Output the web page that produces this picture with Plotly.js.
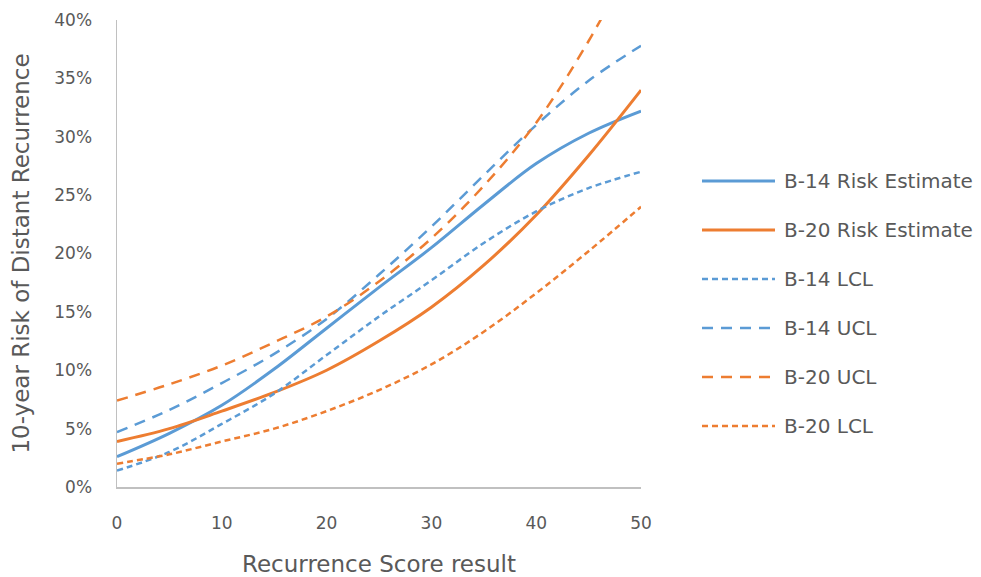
<!DOCTYPE html>
<html>
<head>
<meta charset="utf-8">
<script src="https://cdn.plot.ly/plotly-3.0.1.min.js"></script>
<style>html,body{margin:0;padding:0;background:#fff;}#chart{width:981px;height:577px;}</style>
</head>
<body>
<div id="chart"></div>
<script>
// Recurrence score values
const scores = [0, 5, 10, 15, 20, 25, 30, 35, 40, 45, 50];
// 10-year risk of distant recurrence (fractions)
const b14Estimate = [0.026, 0.046, 0.070, 0.101, 0.136, 0.171, 0.205, 0.242, 0.277, 0.303, 0.322];
const b20Estimate = [0.039, 0.050, 0.065, 0.081, 0.100, 0.125, 0.154, 0.190, 0.233, 0.284, 0.340];
const b14LCL = [0.014, 0.030, 0.054, 0.080, 0.113, 0.146, 0.177, 0.209, 0.236, 0.256, 0.270];
const b14UCL = [0.047, 0.066, 0.089, 0.114, 0.144, 0.182, 0.223, 0.267, 0.310, 0.348, 0.378];
const b20UCL = [0.074, 0.088, 0.104, 0.124, 0.146, 0.176, 0.213, 0.258, 0.312, 0.382, 0.465];
const b20LCL = [0.020, 0.028, 0.039, 0.050, 0.065, 0.083, 0.105, 0.133, 0.166, 0.202, 0.240];

const seriesNames = ["B-14 Risk Estimate", "B-20 Risk Estimate", "B-14 LCL", "B-14 UCL", "B-20 UCL", "B-20 LCL"];
const seriesValues = [b14Estimate, b20Estimate, b14LCL, b14UCL, b20UCL, b20LCL];

const xTickVals = [0, 10, 20, 30, 40, 50];
const yTickVals = [0, 0.05, 0.10, 0.15, 0.20, 0.25, 0.30, 0.35, 0.40];
const yTickText = ["0%", "5%", "10%", "15%", "20%", "25%", "30%", "35%", "40%"];

const BLUE = "#5b9bd5", ORANGE = "#ed7d31";
const styles = [
  {color: BLUE, width: 3, dash: "solid"},
  {color: ORANGE, width: 3, dash: "solid"},
  {color: BLUE, width: 2.5, dash: "6px,4px"},
  {color: BLUE, width: 2.5, dash: "11px,8px"},
  {color: ORANGE, width: 2.5, dash: "11px,8px"},
  {color: ORANGE, width: 2.5, dash: "6px,4px"}
];

const traces = seriesValues.map((vals, i) => ({
  type: "scatter",
  mode: "lines",
  x: scores,
  y: vals,
  name: seriesNames[i],
  line: {color: styles[i].color, width: styles[i].width, dash: styles[i].dash, shape: "spline", smoothing: 1},
  showlegend: false,
  hoverinfo: "x+y+name"
}));

// custom legend placed to the right of the plot area
const plotL = 117, plotR = 641, plotT = 20, plotB = 487;
const pw = plotR - plotL, ph = plotB - plotT;
const px2x = p => (p - plotL) / pw;
const px2y = p => (plotB - p) / ph;
const shapes = [], annotations = [];
seriesNames.forEach((nm, i) => {
  const yc = 181 + i * 49;
  shapes.push({type: "line", xref: "paper", yref: "paper",
    x0: px2x(702), x1: px2x(775), y0: px2y(yc), y1: px2y(yc),
    line: {color: styles[i].color, width: styles[i].width, dash: styles[i].dash}});
  annotations.push({xref: "paper", yref: "paper", x: px2x(782), y: px2y(yc),
    xanchor: "left", yanchor: "middle", showarrow: false, text: nm,
    font: {family: "DejaVu Sans", size: 20, color: "#595959"}});
});

const layout = {
  width: 981, height: 577,
  margin: {l: plotL, r: 981 - plotR, t: plotT, b: 577 - plotB},
  paper_bgcolor: "#ffffff", plot_bgcolor: "#ffffff",
  font: {family: "DejaVu Sans", color: "#595959"},
  showlegend: false,
  xaxis: {
    range: [0, 50], tickvals: xTickVals, ticks: "", showgrid: false, zeroline: false,
    showline: true, linecolor: "#c0c0c0", linewidth: 1.5,
    tickfont: {family: "DejaVu Sans", size: 17, color: "#595959"},
    ticklabelstandoff: 20,
    title: {text: "Recurrence Score result", font: {family: "DejaVu Sans", size: 23, color: "#595959"}, standoff: 24}
  },
  yaxis: {
    range: [0, 0.4], tickvals: yTickVals, ticktext: yTickText, ticks: "", showgrid: false, zeroline: false,
    showline: true, linecolor: "#c0c0c0", linewidth: 1.5,
    tickfont: {family: "DejaVu Sans", size: 17, color: "#595959"},
    ticklabelstandoff: 20,
    title: {text: "10-year Risk of Distant Recurrence", font: {family: "DejaVu Sans", size: 23, color: "#595959"}, standoff: 18}
  },
  shapes: shapes,
  annotations: annotations
};

Plotly.newPlot("chart", traces, layout, {staticPlot: true, displayModeBar: false});
</script>
</body>
</html>
